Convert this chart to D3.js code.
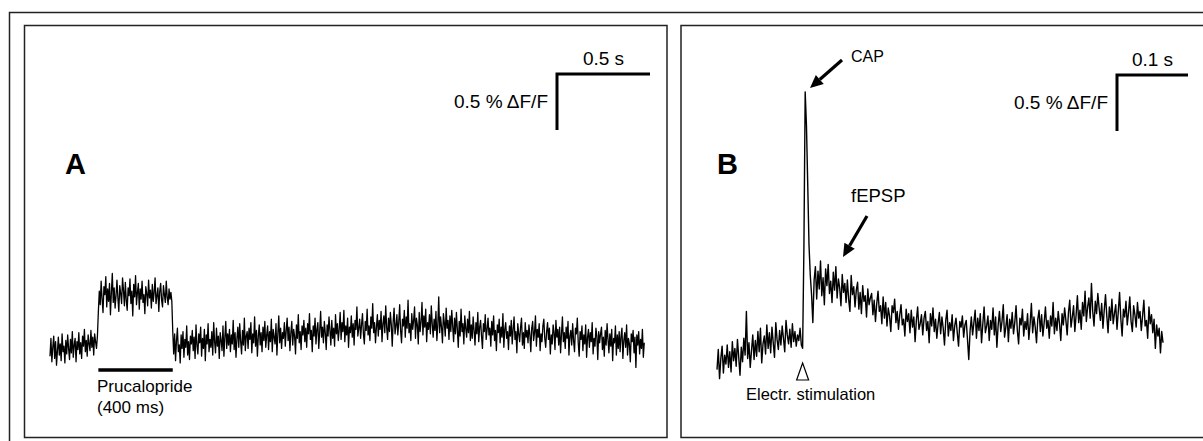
<!DOCTYPE html>
<html>
<head>
<meta charset="utf-8">
<script src="https://cdn.jsdelivr.net/npm/d3@7"></script>
<style>
  html, body { margin: 0; padding: 0; background: #fff; }
  svg { display: block; font-family: "Liberation Sans", Arial, Helvetica, sans-serif; }
</style>
</head>
<body>
<svg id="fig" width="1203" height="441"></svg>
<script>
// Optical recordings of ΔF/F; values in units of 0.01 % ΔF/F.
// Panel A: response to a 400 ms Prucalopride puff, sampled every 5 ms.
const dtA = 0.005;
const traceA = [
  // baseline
  -10, 6, -15, -2, 8, -12, 3, -18, -5, 7,
  -9, 1, -14, 10, -6, -1, -16, 4, -8, 9,
  -3, -13, 5, -7, 12, -11, 0, 6, -15, 3,
  -4, 11, -8, 2, -12, 8, -1, 14, -6, 4,
  -10, 9, 1, -5, 13, -2, 7, -9, 10, 3,
  -3, 8,
  // application
  30,
  48, 36, 57, 41, 29, 52, 45, 61, 34, 50,
  39, 55, 27, 47, 64, 38, 51, 33, 44, 58,
  42, 30, 53, 46, 37, 60, 49, 35, 56, 40,
  31, 51, 44, 59, 37, 48, 26, 54, 43, 62,
  36, 47, 55, 32, 50, 41, 57, 38, 45, 28,
  52, 46, 35, 58, 42, 49, 33, 54, 39, 47,
  60, 37, 44, 51, 30, 48, 55, 40, 34, 53,
  45, 38, 57, 43, 36, 50, 41, 47, 39,
  // wash-out
  12,
  -8, 10, -14, 4, 15, -6, 0, -16, 9, -3, 12, -11, 5, -2, 17, -9, 3, -13, 8, 1,
  13, -5, 7, -12, 18, 0, -8, 10, 2, 16, -10, 6, -3, 14, -14, 9, 1, 19, -6, 5,
  -2, 12, -9, 20, 3, -7, 15, -1, 8, -12, 11, 4, -5, 17, -10, 7, 21, -3, 10, 0,
  14, -6, 9, 1, 22, -4, 11, -11, 6, 16, -2, 19, 3, -8, 13, 0, 24, -5, 8, 12,
  -3, 15, 5, 20, -7, 10, 2, 25, -1, 13, -10, 8, 18, 0, 11, -6, 16, 4, 21, -2,
  9, 17, -4, 12, 3, 23, -6, 14, 7, 1, 19, -9, 10, 26, 2, 15, -3, 11, 6, 20,
  -1, 13, 24, 4, 16, -5, 11, 21, 0, 14, 8, -8, 18, 6, 27, 2, 12, -4, 17, 9,
  22, 3, 15, -2, 19, 10, 28, 5, 13, -6, 17, 8, 24, 1, 14, 20, -3, 12, 30, 7,
  16, 2, 21, 11, -4, 18, 8, 25, 13, 0, 22, 6, 15, -1, 27, 10, 19, 4, 14, 29,
  5, 20, 12, 31, 3, 17, 9, 24, -2, 16, 11, 26, 7, 19, 0, 22, 14, 34, 8, 15,
  23, 6, 18, 28, 10, 1, 21, 13, 32, 9, 17, 4, 25, 15, 37, 11, 20, 2, 16, 27,
  8, 22, 14, 30, 3, 19, 26, 11, 35, 16, 5, 24, 12, 29, 18, -1, 21, 33, 10, 17,
  27, 9, 20, 36, 13, 2, 23, 17, 31, 7, 25, 15, 40, 11, 19, 4, 28, 14, 22, 34,
  6, 24, 18, 1, 29, 12, 21, 38, 9, 26, 16, 32, 3, 20, 14, 27, 10, 35, 19, 7,
  23, 13, 30, 4, 18, 43, 11, 25, 16, 2, 28, 20, 8, 33, 15, 22, 5, 26, 12, 31,
  17, 3, 24, 10, 29, 14, -2, 21, 8, 32, 12, 19, 1, 26, 15, 7, 23, 11, 30, 4,
  18, 6, 25, 13, 0, 20, 10, 29, 3, 16, 22, 8, -3, 19, 12, 27, 5, 14, 24, 9,
  15, -1, 21, 9, 26, 4, 13, -5, 18, 11, 23, 2, 16, 7, 28, -2, 14, 20, 6, 12,
  -4, 17, 8, 22, 1, 14, 25, 5, 12, -7, 19, 10, 3, 16, 24, 0, 11, -3, 20, 7,
  13, 2, 18, 9, -6, 15, 21, 4, 11, 26, -1, 14, 7, 19, -5, 10, 3, 17, 23, 6,
  -2, 12, 20, 5, 15, -8, 9, 1, 18, 11, -4, 22, 7, 14, 0, 16, -7, 10, 25, 3,
  11, -3, 16, 6, 21, -9, 8, 13, 0, 19, 4, -6, 15, 10, 24, 2, -10, 12, 5, 17,
  -5, 9, 1, 18, -11, 7, 14, -2, 11, 3, 20, -8, 6, -1, 15, 8, -13, 12, 2, 10,
  16, -4, 7, -10, 13, 0, 19, 5, -7, 10, -1, 14, -14, 6, 2, 17, -9, 9, -3, 12,
  -6, 8, 15, -12, 4, 11, -2, 18, -9, 6, 1, -15, 10, 3, 13, -7, 7, -20, 9, 0,
  12, -8, 5, -3, 14, -11, 2
];
const puffA = [0.26, 0.66];          // application window, s
const puffLabel = ["Prucalopride", "(400 ms)"];

// Panel B: electrical stimulation, compound action potential and fEPSP, sampled every 1.8 ms.
const dtB = 0.0018;
const traceB = [
  // pre-stimulus
  -22, -4, -30, -12, -1, -25, -9, -17, 0, -20,
  -6, -24, 3, -14, -3, -19, 5, -11, -27, -2,
  -15, 6, -9, 30, -12, 2, -20, -5, 9, -13,
  4, -10, 12, -6, 15, -16, 1, 8, -8, 18,
  -3, 11, -7, 16, 2, -11, 20, 5, -4, 13,
  0, 17, 6, -6, 22, 9, 1, 14, -2, 19,
  3, 12, -1, 9, 4, 15, 0,
  // CAP
  -3, 87, 226, 196, 143, 89,
  // fEPSP
  62, 45, 20, 58, 70, 41, 66, 50, 75, 44,
  60, 36, 68, 53, 72, 46, 57, 38, 65, 49,
  70, 42, 59, 51, 35, 63, 47, 55,
  38, 58, 41, 30, 62, 45, 52, 34, 49, 56,
  32, 47, 28, 53, 39, 44, 25, 50, 36, 42,
  46, 27, 40, 21, 37, 48, 30, 35, 19, 43,
  24, 38, 17, 33, 26, 12, 35, 29, 41, 20,
  30, 14, 27, 36, 18, 23, 8, 32, 21, 28,
  // late baseline
  11, 31, 16, 25, 3, 22, 34, 14, 19, 27,
  9, 24, 30, 13, 21, 2, 28, 17, 33, 12,
  23, 6, 19, 29, 10, 25, 15, 0, 22, 31,
  8, 20, 13, 27, 4, 17, 24, 11, -1, 21,
  16, 26, 7, 18, 22, 5, -13, 12, 25, 9,
  20, 31, 6, 24, 13, 28, 2, 19, 34, 11,
  17, 26, 4, 22, 14, 33, 9, 25, -2, 18,
  30, 12, 21, 36, 7, 16, 27, 3, 23, 15,
  29, 10, 20, 35, 13, 1, 24, 18, 32, 8,
  21, 14, 28, 5, 19, 37, 11, 25, 16, 2,
  23, 31, 12, 27, 8, 20, 34, 15, 22, 6,
  26, 17, 38, 10, 24, 13, 30, 19, 4, 28,
  18, 33, 22, 9, 29, 40, 16, 25, 35, 12,
  27, 44, 20, 31, 14, 38, 26, 48, 21, 34,
  42, 24, 55, 30, 17, 39, 28, 46, 33, 22,
  37, 15, 31, 45, 26, 11, 34, 22, 41, 19,
  28, 36, 14, 30, 47, 23, 8, 32, 25, 39,
  18, 29, 43, 21, 12, 35, 27, 16, 38, 24,
  30, 13, 26, 40, 17, 22, 6, 34, 19, 27,
  11, 23, -3, 18, 8, 15, -7, 12, 2
];
const stimTimeB = 0.1206;            // s
const annotationsB = ["CAP", "fEPSP", "Electr. stimulation"];

// Scale bars: [time (s), ΔF/F (%)] and their labels
const scaleBarA = [0.5, 0.5];
const scaleBarB = [0.1, 0.5];
const scaleLabelsA = ["0.5 s", "0.5 % ΔF/F"];
const scaleLabelsB = ["0.1 s", "0.5 % ΔF/F"];
const panelLetters = ["A", "B"];

const svg = d3.select("#fig");
const FONT = '"Liberation Sans", Arial, Helvetica, sans-serif';

// Frames
svg.append("rect").attr("x", 9.5).attr("y", 12.5).attr("width", 1300).attr("height", 500)
  .attr("fill", "none").attr("stroke", "#222").attr("stroke-width", 1.5);
svg.append("rect").attr("x", 24.5).attr("y", 25.5).attr("width", 642.5).attr("height", 412)
  .attr("fill", "#fff").attr("stroke", "#222").attr("stroke-width", 1.5);
svg.append("rect").attr("x", 681).attr("y", 25.5).attr("width", 600).attr("height", 412)
  .attr("fill", "#fff").attr("stroke", "#222").attr("stroke-width", 1.5);

// Scales (112 px per 1 % ΔF/F in both panels)
const xA = d3.scaleLinear().domain([0, 1]).range([50, 50 + 186]);
const yA = d3.scaleLinear().domain([0, 1]).range([345, 233]);
const xB = d3.scaleLinear().domain([0, 0.1]).range([717, 717 + 71]);
const yB = d3.scaleLinear().domain([0, 1]).range([345, 233]);

const lineA = d3.line().x((d, i) => xA(i * dtA)).y(d => yA(d / 100));
const lineB = d3.line().x((d, i) => xB(i * dtB)).y(d => yB(d / 100));

svg.append("path").datum(traceA).attr("d", lineA)
  .attr("fill", "none").attr("stroke", "#000").attr("stroke-width", 1.3).attr("stroke-linejoin", "round");
svg.append("path").datum(traceB).attr("d", lineB)
  .attr("fill", "none").attr("stroke", "#000").attr("stroke-width", 1.4).attr("stroke-linejoin", "round");

// Panel letters
svg.append("text").attr("x", 65).attr("y", 174).text(panelLetters[0])
  .attr("font-size", 29).attr("font-weight", "bold").attr("font-family", FONT);
svg.append("text").attr("x", 717).attr("y", 174).text(panelLetters[1])
  .attr("font-size", 29).attr("font-weight", "bold").attr("font-family", FONT);

// Scale bar: corner at (cx, cy), horizontal to the right, vertical downward
function scaleBar(cx, cy, x, y, bar, labels) {
  const w = x(bar[0]) - x(0);
  const h = y(0) - y(bar[1]);
  svg.append("path")
    .attr("d", `M${cx + w},${cy}H${cx}V${cy + h}`)
    .attr("fill", "none").attr("stroke", "#000").attr("stroke-width", 3).attr("stroke-linejoin", "miter");
  svg.append("text").attr("x", cx + w / 2).attr("y", cy - 9).attr("text-anchor", "middle")
    .attr("font-size", 19).attr("font-family", FONT).text(labels[0]);
  svg.append("text").attr("x", cx - 9).attr("y", cy + h / 2 + 6).attr("text-anchor", "end")
    .attr("font-size", 19).attr("font-family", FONT).text(labels[1]);
}
scaleBar(557, 74, xA, yA, scaleBarA, scaleLabelsA);
scaleBar(1117, 75, xB, yB, scaleBarB, scaleLabelsB);

// Prucalopride application bar
svg.append("line").attr("x1", xA(puffA[0])).attr("x2", xA(puffA[1])).attr("y1", 370).attr("y2", 370)
  .attr("stroke", "#000").attr("stroke-width", 3.5);
svg.append("text").attr("x", 97).attr("y", 392).attr("font-size", 17).attr("font-family", FONT).text(puffLabel[0]);
svg.append("text").attr("x", 97).attr("y", 413).attr("font-size", 17).attr("font-family", FONT).text(puffLabel[1]);

// Stimulation marker
const sx = xB(stimTimeB);
svg.append("path").attr("d", `M${sx},363L${sx - 6},380L${sx + 6},380Z`)
  .attr("fill", "#fff").attr("stroke", "#000").attr("stroke-width", 1.2);
svg.append("text").attr("x", 746).attr("y", 400).attr("font-size", 16.5).attr("font-family", FONT).text(annotationsB[2]);

// Arrows
function arrow(x1, y1, x2, y2) {
  const a = Math.atan2(y2 - y1, x2 - x1);
  const L = 13, W = 6;
  const bx = x2 - L * Math.cos(a), by = y2 - L * Math.sin(a);
  svg.append("line").attr("x1", x1).attr("y1", y1).attr("x2", bx).attr("y2", by)
    .attr("stroke", "#000").attr("stroke-width", 3.2);
  svg.append("path")
    .attr("d", `M${x2},${y2}L${bx + W * Math.sin(a)},${by - W * Math.cos(a)}L${bx - W * Math.sin(a)},${by + W * Math.cos(a)}Z`)
    .attr("fill", "#000");
}
arrow(842, 60, 810, 88);
arrow(867, 216, 843, 257);

svg.append("text").attr("x", 851).attr("y", 62).attr("font-size", 16).attr("font-family", FONT).text(annotationsB[0]);
svg.append("text").attr("x", 851).attr("y", 202).attr("font-size", 18.5).attr("font-family", FONT).text(annotationsB[1]);
</script>
</body>
</html>
